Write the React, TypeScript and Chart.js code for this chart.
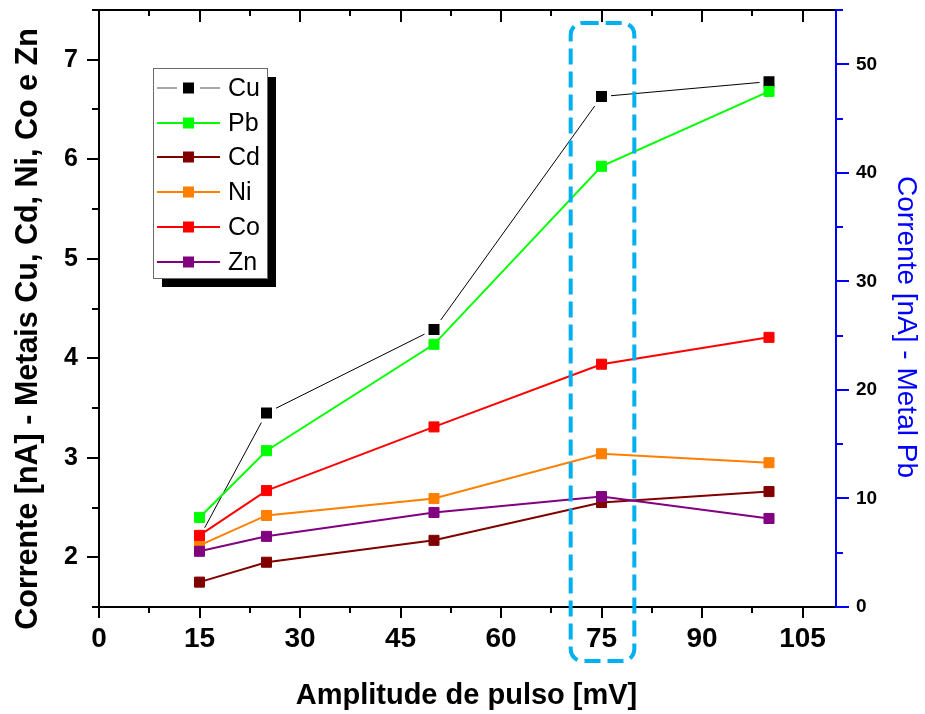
import { useEffect, useRef } from 'react';
import { Chart, registerables } from 'chart.js';

Chart.register(...registerables);

// ---- data ----
const amplitudes = [15, 25, 50, 75, 100];
const cuValues = [2.2, 3.45, 4.29, 6.63, 6.78];
const pbValues = [8.25, 14.4, 24.2, 40.6, 47.5];
const cdValues = [1.75, 1.95, 2.17, 2.55, 2.66];
const niValues = [2.12, 2.42, 2.59, 3.04, 2.95];
const coValues = [2.22, 2.67, 3.31, 3.94, 4.21];
const znValues = [2.06, 2.21, 2.45, 2.61, 2.39];

const seriesNames = ['Cu', 'Pb', 'Cd', 'Ni', 'Co', 'Zn'];
const xTicks = [0, 15, 30, 45, 60, 75, 90, 105];
const yTicks = [2, 3, 4, 5, 6, 7];
const y2Ticks = [0, 10, 20, 30, 40, 50];

const xTitle = 'Amplitude de pulso [mV]';
const yTitle = 'Corrente [nA] - Metais Cu, Cd, Ni, Co e Zn';
const y2Title = 'Corrente [nA] - Metal Pb';

// highlighted region (data units)
const highlightFrom = 70.4;
const highlightTo = 79.9;
const highlightTop = 7.37;

const FONT = '"Liberation Sans", Arial, Helvetica, sans-serif';

const toPoints = (vals: number[]) => vals.map((v, i) => ({ x: amplitudes[i], y: v }));

const framePlugin = {
  id: 'frame',
  afterDraw(chart: any) {
    const { ctx, chartArea: a, scales } = chart;
    const xs = scales.x;
    const ys = scales.y;
    const y2 = scales.y2;
    ctx.save();

    // black axes (left, bottom, top)
    ctx.lineWidth = 2;
    ctx.strokeStyle = '#000';
    ctx.beginPath();
    ctx.moveTo(a.left, a.top - 1);
    ctx.lineTo(a.left, a.bottom + 1);
    ctx.moveTo(a.left - 1, a.bottom);
    ctx.lineTo(a.right, a.bottom);
    ctx.moveTo(a.left - 1, a.top);
    ctx.lineTo(a.right, a.top);
    ctx.stroke();

    // x ticks (bottom outward, top inward)
    ctx.beginPath();
    for (let i = 0; i * 7.5 <= xs.max + 1e-9; i++) {
      const v = i * 7.5;
      const major = xTicks.includes(v);
      const px = Math.round(xs.getPixelForValue(v));
      ctx.moveTo(px, a.bottom);
      ctx.lineTo(px, a.bottom + (major ? 11 : 6));
      ctx.moveTo(px, a.top);
      ctx.lineTo(px, a.top + (major ? 12 : 6));
    }
    // left y ticks
    for (let i = 0; ys.min + i * 0.5 <= ys.max + 1e-9; i++) {
      const v = ys.min + i * 0.5;
      const major = yTicks.some((t) => Math.abs(t - v) < 1e-6);
      const py = Math.round(ys.getPixelForValue(v));
      ctx.moveTo(a.left, py);
      ctx.lineTo(a.left - (major ? 12 : 7), py);
    }
    ctx.stroke();

    // right blue axis
    ctx.strokeStyle = '#0000FF';
    ctx.beginPath();
    ctx.moveTo(a.right, a.top - 1);
    ctx.lineTo(a.right, a.bottom + 1);
    for (let i = 0; i * 5 <= y2.max + 1e-9; i++) {
      const v = i * 5;
      const major = y2Ticks.includes(v);
      const py = Math.round(y2.getPixelForValue(v));
      ctx.moveTo(a.right, py);
      ctx.lineTo(a.right + (major ? 13 : 7), py);
    }
    ctx.stroke();

    // axis titles
    const midY = (a.top + a.bottom) / 2;
    ctx.fillStyle = '#000';
    ctx.textAlign = 'center';
    ctx.textBaseline = 'alphabetic';
    ctx.font = `bold 29px ${FONT}`;
    ctx.fillText(xTitle, (a.left + a.right) / 2 - 1, a.bottom + 97);

    ctx.save();
    ctx.translate(37, midY + 20.5);
    ctx.rotate(-Math.PI / 2);
    ctx.font = `bold 30.5px ${FONT}`;
    ctx.fillText(yTitle, 0, 0);
    ctx.restore();

    ctx.save();
    ctx.translate(a.right + 62, midY + 18.5);
    ctx.rotate(Math.PI / 2);
    ctx.font = `28px ${FONT}`;
    ctx.fillStyle = '#0000FF';
    ctx.fillText(y2Title, 0, 0);
    ctx.restore();

    // highlight rounded dashed rectangle
    const hx1 = xs.getPixelForValue(highlightFrom);
    const hx2 = xs.getPixelForValue(highlightTo);
    const hy1 = ys.getPixelForValue(highlightTop);
    const hy2 = a.bottom + 54;
    ctx.strokeStyle = '#00B0F0';
    ctx.lineWidth = 4;
    ctx.setLineDash([16, 7]);
    ctx.beginPath();
    (ctx as any).roundRect(hx1, hy1, hx2 - hx1, hy2 - hy1, 12);
    ctx.stroke();
    ctx.setLineDash([]);

    // legend
    const lx = a.left + 54;
    const ly = a.top + 58;
    const lw = 114;
    const lh = 210;
    ctx.fillStyle = '#000';
    ctx.fillRect(lx + 9, ly + 9, lw, lh);
    ctx.fillStyle = '#fff';
    ctx.fillRect(lx, ly, lw, lh);
    ctx.strokeStyle = '#6a6a6a';
    ctx.lineWidth = 1;
    ctx.strokeRect(lx + 0.5, ly + 0.5, lw, lh);

    chart.data.datasets.forEach((ds: any, i: number) => {
      const cy = Math.round(ly + 20 + i * 34.7);
      const mx = lx + 35.5;
      if (i === 0) {
        ctx.strokeStyle = '#8a8a8a';
        ctx.lineWidth = 1.5;
        ctx.beginPath();
        ctx.moveTo(lx + 4, cy);
        ctx.lineTo(lx + 24, cy);
        ctx.moveTo(lx + 47, cy);
        ctx.lineTo(lx + 67, cy);
        ctx.stroke();
      } else {
        ctx.strokeStyle = ds.borderColor;
        ctx.lineWidth = 2;
        ctx.beginPath();
        ctx.moveTo(lx + 4, cy);
        ctx.lineTo(lx + 67, cy);
        ctx.stroke();
      }
      ctx.fillStyle = ds.borderColor;
      ctx.fillRect(mx - 5.5, cy - 5.5, 11, 11);
      ctx.fillStyle = '#000';
      ctx.font = `25px ${FONT}`;
      ctx.textAlign = 'left';
      ctx.textBaseline = 'middle';
      ctx.fillText(ds.label, lx + 75, cy + 1);
    });

    ctx.restore();
  },
};

export default function App() {
  const ref = useRef<HTMLCanvasElement>(null);

  useEffect(() => {
    document.body.style.margin = '0';
    const colored = (label: string, color: string, vals: number[], order: number, axis = 'y') => ({
      label,
      data: toPoints(vals),
      borderColor: color,
      backgroundColor: color,
      borderWidth: 2,
      pointStyle: 'rect',
      pointRadius: 7.1,
      pointBorderWidth: 1,
      pointBorderColor: color,
      pointBackgroundColor: color,
      yAxisID: axis,
      order,
    });

    const chart = new Chart(ref.current as HTMLCanvasElement, {
      type: 'line',
      data: {
        datasets: [
          {
            label: seriesNames[0],
            data: toPoints(cuValues),
            borderColor: '#000000',
            backgroundColor: '#000000',
            borderWidth: 1,
            pointStyle: 'rect',
            pointRadius: 10.6,
            pointBorderWidth: 4,
            pointBorderColor: '#ffffff',
            pointBackgroundColor: '#000000',
            yAxisID: 'y',
            order: 6,
          },
          colored(seriesNames[1], '#00FF00', pbValues, 5, 'y2'),
          colored(seriesNames[2], '#800000', cdValues, 4),
          colored(seriesNames[3], '#FF8000', niValues, 3),
          colored(seriesNames[4], '#FF0000', coValues, 2),
          colored(seriesNames[5], '#800080', znValues, 1),
        ] as any,
      },
      options: {
        responsive: false,
        devicePixelRatio: 1,
        animation: false,
        layout: { autoPadding: false, padding: { top: 10, left: 0, right: 0, bottom: 0 } },
        plugins: {
          legend: { display: false },
          tooltip: { enabled: false },
        },
        scales: {
          x: {
            type: 'linear',
            min: 0,
            max: 110,
            grid: { display: false, drawTicks: false },
            border: { display: false },
            ticks: {
              color: '#000',
              padding: 15,
              autoSkip: false,
              maxRotation: 0,
              font: { family: FONT, size: 28, weight: 'bold' },
            },
            afterBuildTicks: (s: any) => {
              s.ticks = xTicks.map((v) => ({ value: v }));
            },
            afterFit: (s: any) => {
              s.height = 107;
              s.paddingLeft = 0;
              s.paddingRight = 0;
            },
          },
          y: {
            type: 'linear',
            position: 'left',
            min: 1.5,
            max: 7.5,
            grid: { display: false, drawTicks: false },
            border: { display: false },
            ticks: {
              color: '#000',
              padding: 21,
              autoSkip: false,
              font: { family: FONT, size: 25, weight: 'bold' },
            },
            afterBuildTicks: (s: any) => {
              s.ticks = yTicks.map((v) => ({ value: v }));
            },
            afterFit: (s: any) => {
              s.width = 99;
              s.paddingTop = 0;
              s.paddingBottom = 0;
            },
          },
          y2: {
            type: 'linear',
            position: 'right',
            min: 0,
            max: 55,
            grid: { display: false, drawTicks: false },
            border: { display: false },
            ticks: {
              color: '#000',
              padding: 20,
              autoSkip: false,
              font: { family: FONT, size: 19, weight: 'bold' },
            },
            afterBuildTicks: (s: any) => {
              s.ticks = y2Ticks.map((v) => ({ value: v }));
            },
            afterFit: (s: any) => {
              s.width = 89;
              s.paddingTop = 0;
              s.paddingBottom = 0;
            },
          },
        },
      } as any,
      plugins: [framePlugin],
    });
    return () => chart.destroy();
  }, []);

  return (
    <div style={{ width: 925, height: 714, background: '#fff' }}>
      <canvas ref={ref} width={925} height={714} style={{ display: 'block' }} />
    </div>
  );
}
